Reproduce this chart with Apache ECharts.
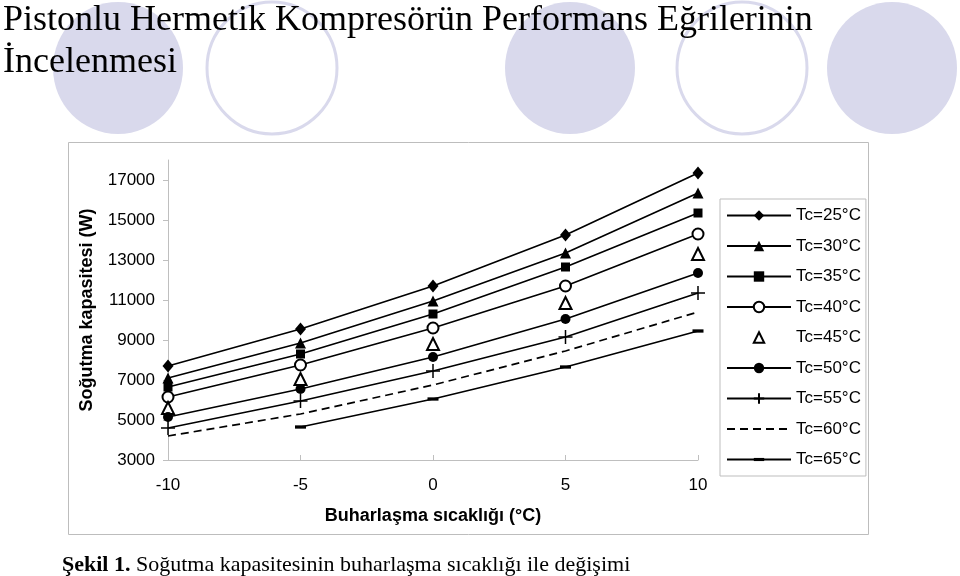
<!DOCTYPE html>
<html>
<head>
<meta charset="utf-8">
<script src="https://cdn.jsdelivr.net/npm/echarts@6/dist/echarts.min.js"></script>
<style>
  html, body { margin: 0; padding: 0; background: #fff; }
  #chart { width: 960px; height: 576px; }
</style>
</head>
<body>
<div id="chart"></div>
<script>
// buharlaşma sıcaklığı (°C)
const evapTemps = [-10, -5, 0, 5, 10];
// soğutma kapasitesi (W), her yoğuşma sıcaklığı için
const tc25 = [7700, 9550, 11700, 14250, 17350];
const tc30 = [7100, 8850, 10950, 13350, 16350];
const tc35 = [6650, 8300, 10300, 12650, 15350];
const tc40 = [6150, 7750, 9600, 11700, 14300];
const tc45 = [5600, 7050, 8800, 10850, 13300];
const tc50 = [5150, 6550, 8150, 10050, 12350];
const tc55 = [4600, 5950, 7450, 9150, 11350];
const tc60 = [4200, 5300, 6750, 8450, 10400];
const tc65 = [null, 4650, 6050, 7650, 9450];
const yTicks = [3000, 5000, 7000, 9000, 11000, 13000, 15000, 17000];

const lavender = '#d9d9ec';
const plusPath = 'path://M0,5 L10,5 M5,0 L5,10';
// ince yatay çizgi; köşe noktaları kutuyu kare tutar
const dashPath = 'path://M0,0 M10,10 M0,3.5 L10,3.5 L10,6.5 L0,6.5 Z';
const blankPath = 'path://M0,0 M10,10';

function pairs(vals) {
  return evapTemps.map((x, i) => [x, vals[i]]);
}

function makeSeries(name, vals, symbol, size, extra) {
  const s = {
    name: name,
    type: 'line',
    data: pairs(vals),
    symbol: symbol,
    symbolSize: size,
    connectNulls: false,
    color: '#000',
    itemStyle: { color: '#000', borderColor: '#000', borderWidth: 0 },
    lineStyle: { color: '#000', width: 1.7, type: 'solid' },
    emphasis: { disabled: true },
    animation: false
  };
  return Object.assign(s, extra || {});
}

const series = [
  makeSeries('Tc=25°C', tc25, 'diamond', [11, 13]),
  makeSeries('Tc=30°C', tc30, 'triangle', 11),
  makeSeries('Tc=35°C', tc35, 'rect', 9),
  makeSeries('Tc=40°C', tc40, 'emptyCircle', 11, {
    itemStyle: { color: '#000', borderColor: '#000', borderWidth: 1.3 }
  }),
  makeSeries('Tc=45°C', tc45, 'emptyTriangle', 12, {
    itemStyle: { color: '#000', borderColor: '#000', borderWidth: 1.3 },
    lineStyle: { color: '#000', width: 0, opacity: 0 }
  }),
  makeSeries('Tc=50°C', tc50, 'circle', 10),
  makeSeries('Tc=55°C', tc55, plusPath, 14, {
    itemStyle: { color: 'none', borderColor: '#000', borderWidth: 1.5 }
  }),
  makeSeries('Tc=60°C', tc60, blankPath, 1, {
    itemStyle: { color: 'none', borderColor: 'none', borderWidth: 0 },
    lineStyle: { color: '#000', width: 1.7, type: [8, 5] }
  }),
  makeSeries('Tc=65°C', tc65, dashPath, 11)
];

const chart = echarts.init(document.getElementById('chart'), null, { renderer: 'canvas' });

chart.setOption({
  backgroundColor: '#fff',
  animation: false,
  graphic: [
    { type: 'ellipse', shape: { cx: 118, cy: 68, rx: 65, ry: 66 }, style: { fill: lavender }, z: 0 },
    { type: 'ellipse', shape: { cx: 272, cy: 68, rx: 65, ry: 66 }, style: { fill: 'none', stroke: lavender, lineWidth: 3 }, z: 0 },
    { type: 'ellipse', shape: { cx: 570, cy: 68, rx: 65, ry: 66 }, style: { fill: lavender }, z: 0 },
    { type: 'ellipse', shape: { cx: 742, cy: 68, rx: 65, ry: 66 }, style: { fill: 'none', stroke: lavender, lineWidth: 3 }, z: 0 },
    { type: 'ellipse', shape: { cx: 892, cy: 68, rx: 65, ry: 66 }, style: { fill: lavender }, z: 0 },
    {
      type: 'text', left: 3, top: 3, z: 1,
      style: { text: 'Pistonlu Hermetik Kompresörün Performans Eğrilerinin', font: "36px 'Liberation Serif'", fill: '#000' }
    },
    {
      type: 'text', left: 3, top: 45, z: 1,
      style: { text: 'İncelenmesi', font: "36px 'Liberation Serif'", fill: '#000' }
    },
    {
      type: 'rect', shape: { x: 68.5, y: 142.5, width: 800, height: 392 }, z: 0,
      style: { fill: '#fff', stroke: '#bdbdbd', lineWidth: 1 }
    },
    {
      type: 'text', left: 62, top: 554, z: 1,
      style: {
        text: '{b|Şekil 1.} Soğutma kapasitesinin buharlaşma sıcaklığı ile değişimi',
        font: "22px 'Liberation Serif'", fill: '#000',
        rich: { b: { font: "bold 22px 'Liberation Serif'", fill: '#000' } }
      }
    }
  ],
  legend: {
    orient: 'vertical',
    left: 720,
    top: 199,
    padding: [8, 5, 8, 6],
    itemWidth: 64,
    itemHeight: 13,
    itemGap: 13.5,
    backgroundColor: '#fff',
    borderColor: '#bdbdbd',
    borderWidth: 1,
    borderRadius: 0,
    textStyle: { fontFamily: 'Liberation Sans', fontSize: 17, color: '#000' },
    selectedMode: false
  },
  grid: { left: 168, right: 262, top: 160, bottom: 116, containLabel: false },
  xAxis: {
    type: 'value',
    min: -10,
    max: 10,
    interval: 5,
    name: 'Buharlaşma sıcaklığı (°C)',
    nameLocation: 'middle',
    nameGap: 47,
    nameTextStyle: { fontFamily: 'Liberation Sans', fontSize: 18, fontWeight: 'bold', color: '#000' },
    axisLine: { onZero: false, lineStyle: { color: '#bfbfbf', width: 1 } },
    axisTick: { inside: true, length: 5, lineStyle: { color: '#bfbfbf' } },
    axisLabel: { margin: 17, fontFamily: 'Liberation Sans', fontSize: 17, color: '#000' },
    splitLine: { show: false }
  },
  yAxis: {
    type: 'value',
    min: 3000,
    max: 18000,
    name: 'Soğutma kapasitesi (W)',
    nameLocation: 'middle',
    nameGap: 72,
    nameTextStyle: { fontFamily: 'Liberation Sans', fontSize: 18, fontWeight: 'bold', color: '#000' },
    axisLine: { show: true, onZero: false, lineStyle: { color: '#bfbfbf', width: 1 } },
    axisTick: { show: true, inside: false, length: 5, customValues: yTicks, lineStyle: { color: '#bfbfbf' } },
    axisLabel: {
      margin: 13, fontFamily: 'Liberation Sans', fontSize: 17, color: '#000',
      customValues: yTicks,
      formatter: (v) => String(v)
    },
    splitLine: { show: false }
  },
  series: series
});
</script>
</body>
</html>
